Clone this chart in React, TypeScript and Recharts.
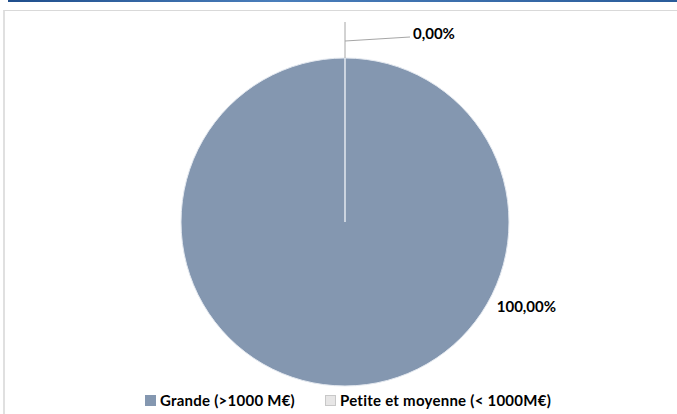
import React from "react";
import { PieChart, Pie, Cell, Legend } from "recharts";

// Répartition par taille d'entreprise
const categories = ["Grande (>1000 M€)", "Petite et moyenne (< 1000M€)"];
const shares = [100, 0];
const percentLabels = ["100,00%", "0,00%"];
const colors = ["#8497B0", "#E7E6E6"];

const data = categories.map((name, i) => ({ name, value: shares[i], label: percentLabels[i] }));

const RADIAN = Math.PI / 180;
const FONT = "Lato, 'Open Sans', sans-serif";

const renderLabel = (props: any) => {
  const { cx, cy, outerRadius, index } = props;
  const style = { fontFamily: FONT, fontWeight: 700, fontSize: 15, fill: "#000" };
  if (index === 1) {
    // tiny slice at the top: leader line up then out to the right
    const top = cy - outerRadius;
    return (
      <g>
        <line x1={cx} y1={top} x2={cx} y2={top - 36} stroke="#A6A6A6" strokeWidth={1} />
        <line x1={cx} y1={top - 17} x2={cx + 65} y2={top - 21} stroke="#A6A6A6" strokeWidth={1} />
        <text x={cx + 68} y={top - 25} dominantBaseline="central" style={style}>
          {data[index].label}
        </text>
      </g>
    );
  }
  const a = -24.9 * RADIAN;
  const r = outerRadius + 36;
  const x = cx + r * Math.cos(a);
  const y = cy - r * Math.sin(a);
  return (
    <text x={x} y={y} textAnchor="middle" dominantBaseline="central" style={style}>
      {data[index].label}
    </text>
  );
};

const renderLegend = () => (
  <div style={{ display: "flex", justifyContent: "center", gap: 30, paddingLeft: 19, fontFamily: FONT, fontWeight: 700, fontSize: 15, letterSpacing: 0.25, color: "#000" }}>
    {categories.map((c, i) => (
      <div key={c} style={{ display: "flex", alignItems: "center" }}>
        <span style={{ display: "inline-block", width: 9, height: 9, background: colors[i], border: i === 1 ? "1px solid #C8C8C8" : "1px solid " + colors[i], marginRight: 4 }} />
        {c}
      </div>
    ))}
  </div>
);

const App: React.FC = () => (
  <div style={{ position: "absolute", left: 0, top: 0, width: 677, height: 414, background: "#fff", overflow: "hidden" }}>
    <div style={{ position: "absolute", left: 8, top: 0, width: 669, height: 2, background: "linear-gradient(90deg, #1F4E8C, #4A7EBB 40%, #2A5C9A)" }} />
    <div style={{ position: "absolute", left: 3, top: 10, width: 680, height: 410, borderTop: "1px solid #D9D9D9", borderLeft: "2px solid #E0E0E0" }} />
    <PieChart width={677} height={414} style={{ position: "absolute", left: 0, top: 0 }}>
      <Pie
        data={data}
        dataKey="value"
        cx={340}
        cy={217}
        outerRadius={164}
        startAngle={90}
        endAngle={-270}
        stroke="#E4E9F0"
        strokeWidth={1}
        label={renderLabel}
        labelLine={false}
        isAnimationActive={false}
      >
        {data.map((d, i) => (
          <Cell key={d.name} fill={colors[i]} />
        ))}
      </Pie>
      <Legend verticalAlign="bottom" content={renderLegend} wrapperStyle={{ bottom: 5 }} />
    </PieChart>
  </div>
);

export default App;
